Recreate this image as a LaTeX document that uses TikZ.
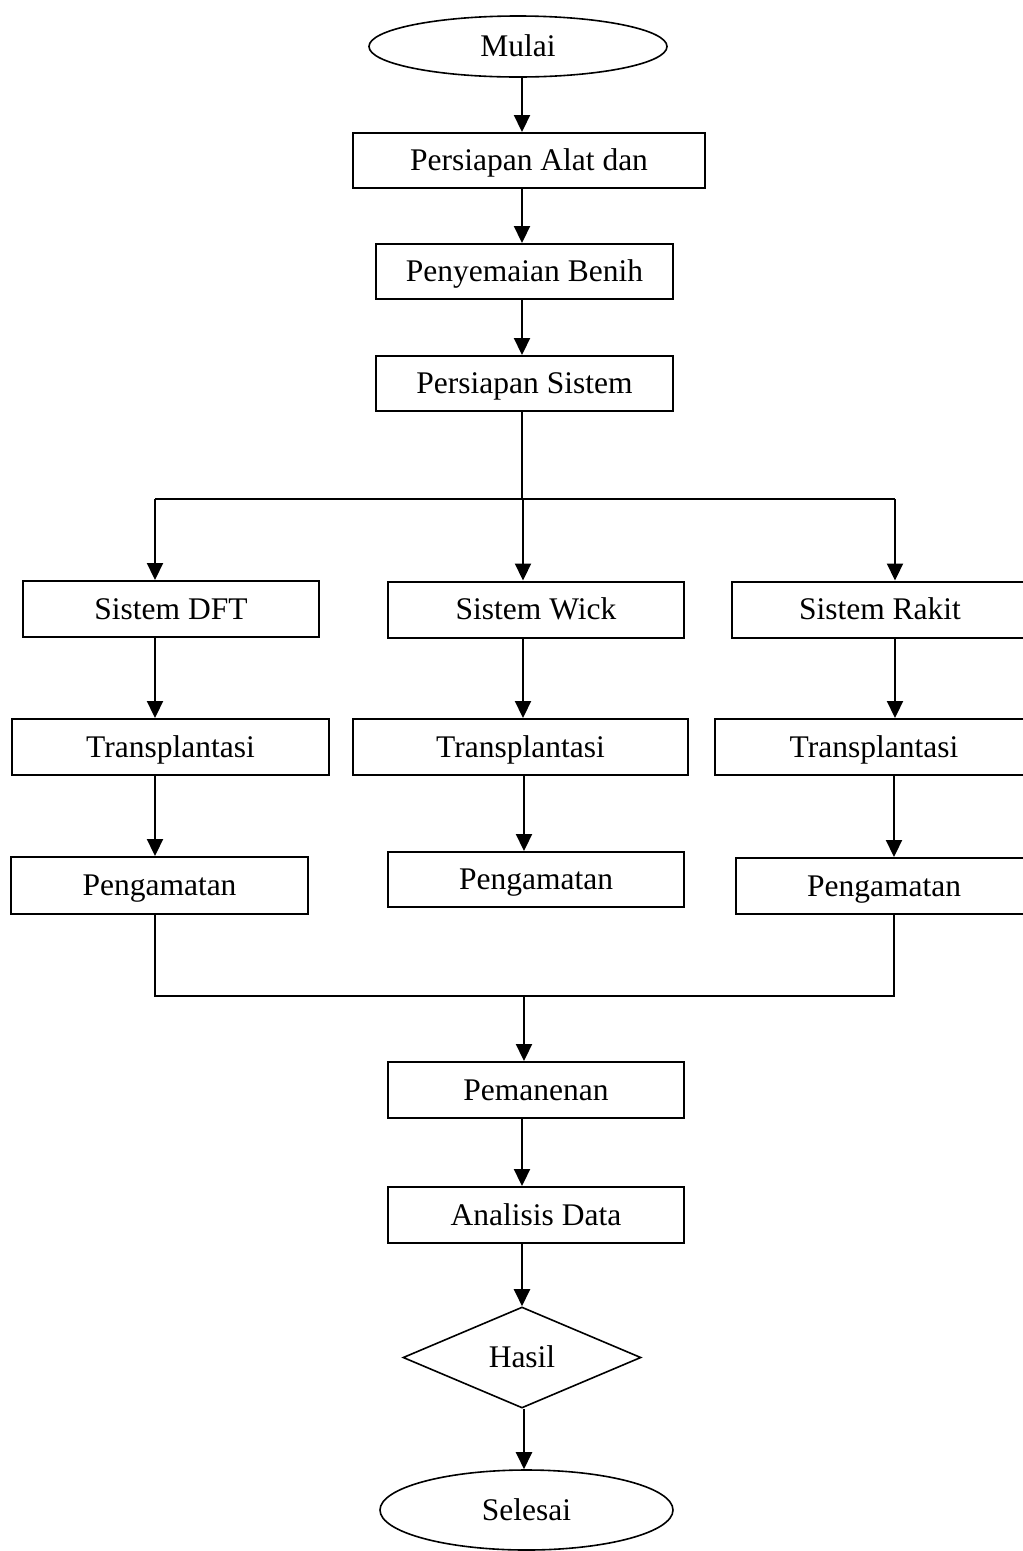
\documentclass[tikz,border=0pt]{standalone}
\usepackage{fontspec}
\setmainfont{Liberation Serif}
\usepackage{tikz}
\usetikzlibrary{positioning,shapes.geometric,arrows.meta}
\definecolor{InkBlack}{HTML}{000000}
\tikzset{
  procbox/.style={draw=InkBlack,line width=2pt,minimum height=55pt,
    font=\fontsize{31.5}{36}\selectfont,text height=24pt,text depth=4pt,
    align=center,inner sep=0pt},
  termnode/.style={ellipse,draw=InkBlack,line width=1.6pt,
    font=\fontsize{31.5}{36}\selectfont,text height=24pt,text depth=4pt,
    inner sep=0pt},
  decnode/.style={diamond,aspect=2.36,draw=InkBlack,line width=1.6pt,
    font=\fontsize{31.5}{36}\selectfont,text height=24pt,text depth=4pt,
    inner sep=0pt},
  arrS/.style={line width=2.2pt,draw=InkBlack,-{Triangle[length=17pt,width=16pt]}},
  joinS/.style={line width=1.8pt,draw=InkBlack},
}
\begin{document}
\begin{tikzpicture}[x=1pt,y=-1pt]
  \useasboundingbox (0,0) rectangle (1023,1551);
  \clip (0,0) rectangle (1023,1551);
  \node[termnode,minimum width=298pt,minimum height=61pt] (mulai) at (518,46.5) {Mulai};
  \node[procbox,minimum width=352pt] (alat) at (529,160.5) {Persiapan Alat dan};
  \node[procbox,minimum width=297pt] (benih) at (524.5,271.5) {Penyemaian Benih};
  \node[procbox,minimum width=297pt] (sistem) at (524.5,383.5) {Persiapan Sistem};
  \node[procbox,minimum width=296pt,minimum height=56pt] (dft) at (171,609) {Sistem DFT};
  \node[procbox,minimum width=296pt,minimum height=56pt] (wick) at (536,609.5) {Sistem Wick};
  \node[procbox,minimum width=296pt,minimum height=56pt] (rakit) at (880,609.5) {Sistem Rakit};
  \node[procbox,minimum width=317pt,minimum height=56pt] (trdft) at (170.5,747) {Transplantasi};
  \node[procbox,minimum width=335pt,minimum height=56pt] (trwick) at (520.5,747) {Transplantasi};
  \node[procbox,minimum width=318pt,minimum height=56pt] (trrakit) at (874,747) {Transplantasi};
  \node[procbox,minimum width=297pt,minimum height=57pt] (pgdft) at (159.5,885.5) {Pengamatan};
  \node[procbox,minimum width=296pt] (pgwick) at (536,879.5) {Pengamatan};
  \node[procbox,minimum width=296pt,minimum height=56pt] (pgrakit) at (884,886) {Pengamatan};
  \node[procbox,minimum width=296pt,minimum height=56pt] (panen) at (536,1090) {Pemanenan};
  \node[procbox,minimum width=296pt,minimum height=56pt] (analisis) at (536,1215) {Analisis Data};
  \node[decnode,minimum width=238pt,minimum height=101pt] (hasil) at (522,1357.5) {Hasil};
  \node[termnode,minimum width=293pt,minimum height=80pt] (selesai) at (526.5,1510) {Selesai};
  % branch and merge points
  \coordinate (trunk) at (522,0);
  \coordinate (split) at (522,499);
  \coordinate (splitL) at (155,499);
  \coordinate (splitM) at (523,499);
  \coordinate (splitR) at (895,499);
  \coordinate (merge) at (524,996);
  \coordinate (mergeL) at (155,996);
  \coordinate (mergeR) at (894,996);
  \draw[arrS] (mulai.south -| trunk) -- (alat.north -| trunk);
  \draw[arrS] (alat.south -| trunk) -- (benih.north -| trunk);
  \draw[arrS] (benih.south -| trunk) -- (sistem.north -| trunk);
  \draw[joinS] (sistem.south -| trunk) -- (split);
  \draw[joinS] (splitL) -- (splitR);
  \draw[arrS] (splitL) -- (splitL |- dft.north);
  \draw[arrS] (splitM) -- (splitM |- wick.north);
  \draw[arrS] (splitR) -- (splitR |- rakit.north);
  \draw[arrS] (dft.south -| splitL) -- (trdft.north -| splitL);
  \draw[arrS] (wick.south -| splitM) -- (trwick.north -| splitM);
  \draw[arrS] (rakit.south -| splitR) -- (trrakit.north -| splitR);
  \draw[arrS] (trdft.south -| mergeL) -- (pgdft.north -| mergeL);
  \draw[arrS] (trwick.south -| merge) -- (pgwick.north -| merge);
  \draw[arrS] (trrakit.south -| mergeR) -- (pgrakit.north -| mergeR);
  \draw[joinS] (pgdft.south -| mergeL) -- (mergeL) -- (mergeR) -- (pgrakit.south -| mergeR);
  \draw[arrS] (merge) -- (panen.north -| merge);
  \draw[arrS] (panen.south -| split) -- (analisis.north -| split);
  \draw[arrS] (analisis.south -| split) -- (hasil.north -| split);
  \draw[arrS] (hasil.south -| merge) -- (selesai.north -| merge);
\end{tikzpicture}
\end{document}
